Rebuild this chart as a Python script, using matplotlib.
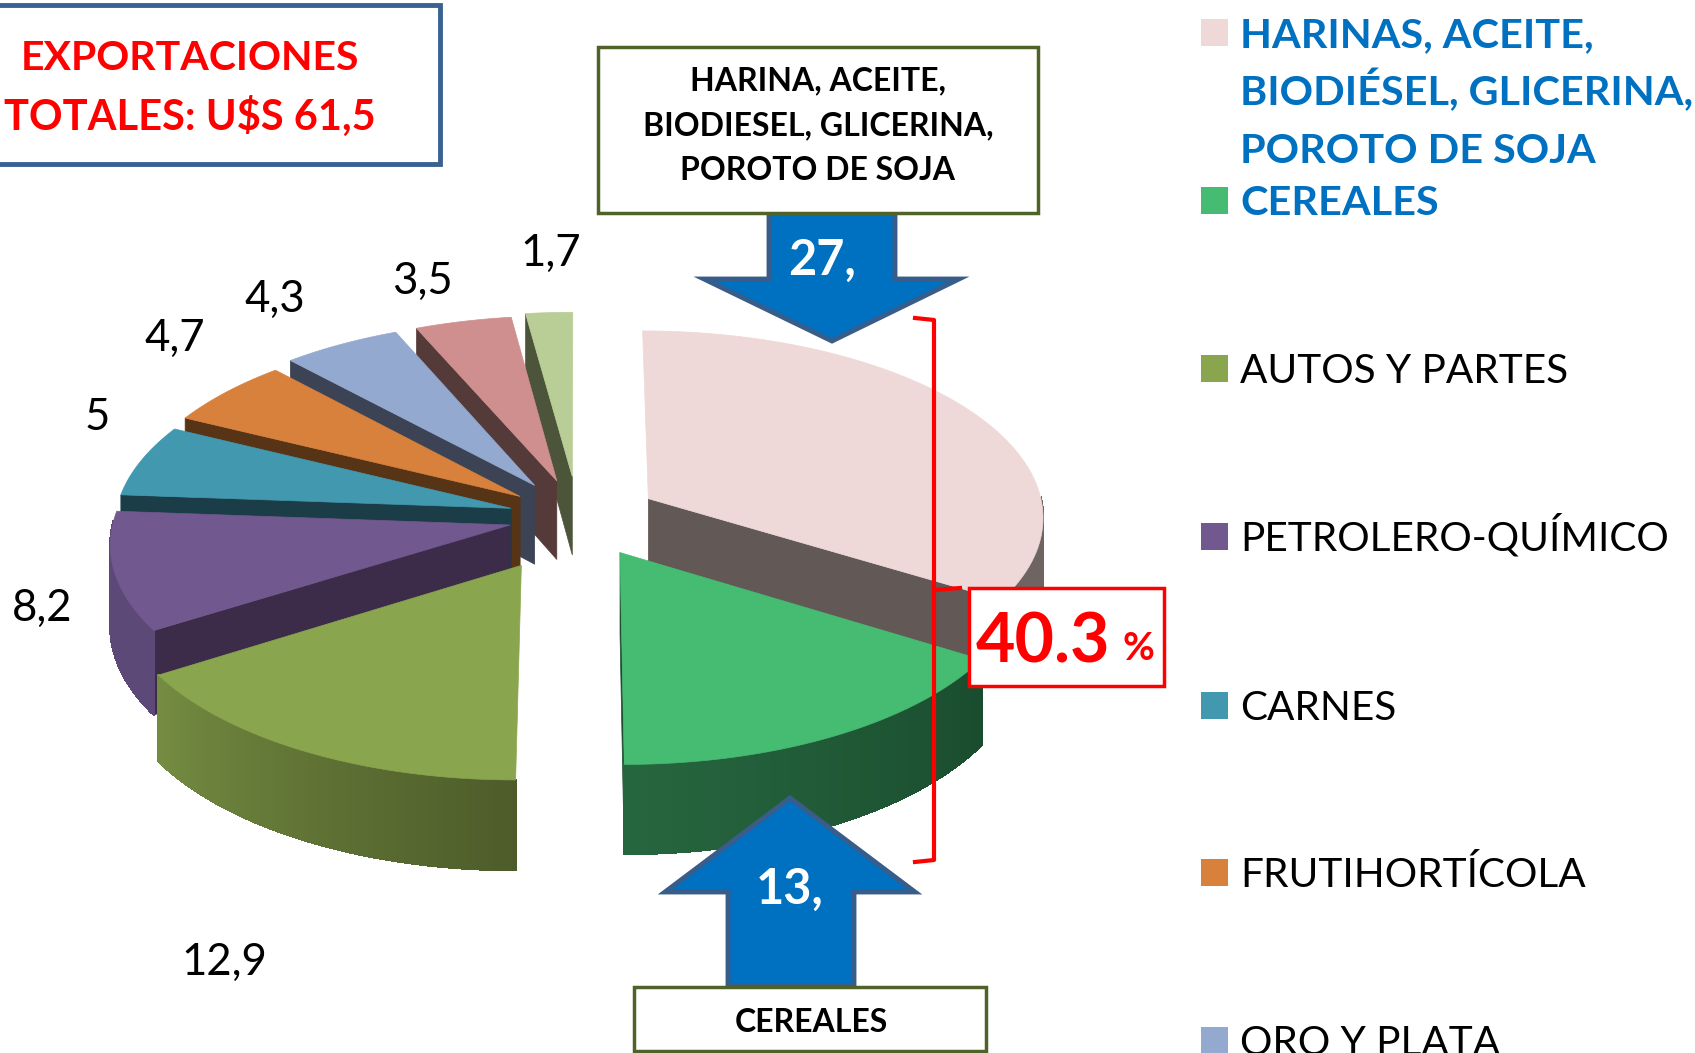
import numpy as np
import matplotlib
matplotlib.use("Agg")
import matplotlib.pyplot as plt
from matplotlib.colors import to_rgb
from matplotlib.patches import Rectangle

plt.rcParams['font.family'] = ['Lato', 'DejaVu Sans']

# datos
sectores = ["HARINAS", "CEREALES", "AUTOS Y PARTES", "PETROLERO-QUÍMICO", "CARNES",
            "FRUTIHORTÍCOLA", "ORO Y PLATA", "OTROS 1", "OTROS 2"]
valores = [27.3, 13.0, 12.9, 8.2, 5, 4.7, 4.3, 3.5, 1.7]
leyenda = ["HARINAS, ACEITE,\nBIODIÉSEL, GLICERINA,\nPOROTO DE SOJA", "CEREALES", "AUTOS Y PARTES",
           "PETROLERO-QUÍMICO", "CARNES", "FRUTIHORTÍCOLA", "ORO Y PLATA"]

# estilo de cada porcion
explode = [0.205, 0.215, 0.29, 0.176, 0.176, 0.185, 0.205, 0.205, 0.222]
c_tapa = ["#eed9d8", "#46bb72", "#89a54e", "#71588f", "#4198af", "#d8813c", "#93a9cf", "#cf8f8f", "#b9cd96"]
c_pared = ["#625856", "#1a4c2e", "#4d5c2a", "#3c2c4a", "#1a3d48", "#573416", "#3b4355", "#553a3a", "#4c553a"]
c_ini = ["#6e6462", "#1a4c2e", "#4d5c2a", "#5d4977", "#1a3d48", "#573416", "#3b4355", "#553a3a", "#4c553a"]
c_fin = ["#6e6462", "#26663f", "#748c41", "#5d4977", "#1a3d48", "#573416", "#3b4355", "#553a3a", "#4c553a"]
orden = [8, 7, 6, 5, 4, 3, 2, 0, 1]
pos_etq = [None, None, (224, 962), (42, 608), (97, 418), (175, 338), (275, 299), (422, 281), (551, 253)]

CX, CY = 578, 517
W, H, D, K = 396, 186, 80, 0.09


def proy(x, y, z=0.0):
    s = 1 / (1 + K * y)
    return CX + W * x * s, CY - H * y * s + D * z * s


fig = plt.figure(figsize=(16.95, 10.53), dpi=100)
ax = fig.add_axes([0, 0, 1, 1])
ax.set_xlim(0, 1695)
ax.set_ylim(1053, 0)
ax.axis("off")

fracc = np.cumsum([0] + valores) / sum(valores) * 2 * np.pi
for i in orden:
    a1, a2 = fracc[i], fracc[i + 1]
    med = (a1 + a2) / 2
    ox, oy = explode[i] * np.sin(med), explode[i] * np.cos(med)
    t = np.linspace(a1, a2, 80)
    bx, by = ox + np.sin(t), oy + np.cos(t)

    # paredes radiales
    for a, visible in ((a1, np.sin(a1) < 0), (a2, np.sin(a2) > 0)):
        if visible:
            ex, ey = ox + np.sin(a), oy + np.cos(a)
            pts = [proy(ox, oy), proy(ex, ey), proy(ex, ey, 1), proy(ox, oy, 1)]
            ax.fill(*zip(*pts), color=c_pared[i], lw=0.5, zorder=2)
    # pared exterior con degradado
    for j in range(len(t) - 1):
        if np.cos(t[j]) < 0.02:
            f = j / (len(t) - 2)
            col = (1 - f) * np.array(to_rgb(c_ini[i])) + f * np.array(to_rgb(c_fin[i]))
            pts = [proy(bx[j], by[j]), proy(bx[j + 1], by[j + 1]), proy(bx[j + 1], by[j + 1], 1), proy(bx[j], by[j], 1)]
            ax.fill(*zip(*pts), color=col, lw=1, antialiased=False, zorder=2)
    # tapa
    xs, ys = proy(np.r_[ox, bx], np.r_[oy, by])
    ax.fill(xs, ys, color=c_tapa[i], lw=0.5, zorder=2)
    if pos_etq[i] is not None:
        ax.text(*pos_etq[i], f"{valores[i]:g}".replace(".", ","), fontsize=31.5, ha="center", va="center", color="black", zorder=3)

# caja total
ax.add_patch(Rectangle((-5, 5), 445, 159, fc="white", ec="#3a6192", lw=3.5, zorder=4))
ax.text(190, 58, "EXPORTACIONES", color="#ff0000", fontsize=29.5, fontweight="bold", ha="center", va="center", zorder=5)
ax.text(190, 116, "TOTALES: U$S 61,5", color="#ff0000", fontsize=30, fontweight="bold", ha="center", va="center", zorder=5)

# flechas
flecha1 = [(769, 213), (895, 213), (895, 279), (959, 279), (832, 341), (704, 279), (769, 279)]
flecha2 = [(728, 986), (854, 986), (854, 892), (915, 892), (790, 798), (665, 892), (728, 892)]
for fl in (flecha1, flecha2):
    ax.fill(*zip(*fl), fc="#0070c0", ec="#385d8a", lw=3.5, joinstyle="miter", zorder=4)
ax.text(822, 260, "27,", color="white", fontsize=35, fontweight="bold", ha="center", va="center", zorder=6)
ax.text(790, 889, "13,", color="white", fontsize=35, fontweight="bold", ha="center", va="center", zorder=6)

# cajas de texto
ax.add_patch(Rectangle((598, 47), 440, 166, fc="white", ec="#4f6228", lw=2.5, zorder=5))
ax.text(818, 81, "HARINA, ACEITE,", fontsize=23, fontweight="bold", ha="center", va="center", zorder=6)
ax.text(818, 126, "BIODIESEL, GLICERINA,", fontsize=23, fontweight="bold", ha="center", va="center", zorder=6)
ax.text(818, 171, "POROTO DE SOJA", fontsize=23, fontweight="bold", ha="center", va="center", zorder=6)
ax.add_patch(Rectangle((634, 987), 352, 64, fc="white", ec="#4f6228", lw=2.5, zorder=5))
ax.text(811, 1023, "CEREALES", fontsize=23, fontweight="bold", ha="center", va="center", zorder=6)

# llave roja
ax.plot([915, 934, 934, 915], [318, 320, 860, 862], color="#ff0000", lw=3, zorder=7)
ax.plot([934, 960], [590, 588], color="#ff0000", lw=3, zorder=7)
ax.add_patch(Rectangle((969, 588), 195, 98, fc="white", ec="#ff0000", lw=2.5, zorder=8))
ax.text(1043, 643, "40.3", color="#ff0000", fontsize=49, fontweight="bold", ha="center", va="center", zorder=9)
ax.text(1138, 649, "%", color="#ff0000", fontsize=28, fontweight="bold", ha="center", va="center", zorder=9)

# leyenda
ley_y = [32, 200, 368, 536, 705, 872, 1040]
for i, txt in enumerate(leyenda):
    ax.add_patch(Rectangle((1201, ley_y[i] - 13.5), 27, 27, fc=c_tapa[i], ec="none", zorder=3))
    destacado = i < 2
    for k, linea in enumerate(txt.split("\n")):
        ax.text(1240, ley_y[i] + 15 + k * 58, linea, fontsize=29.8 if destacado else 29.2,
                color="#0070c0" if destacado else "black",
                fontweight="bold" if destacado else "normal", ha="left", va="baseline", zorder=3)

fig.savefig("out.png", dpi=100)
